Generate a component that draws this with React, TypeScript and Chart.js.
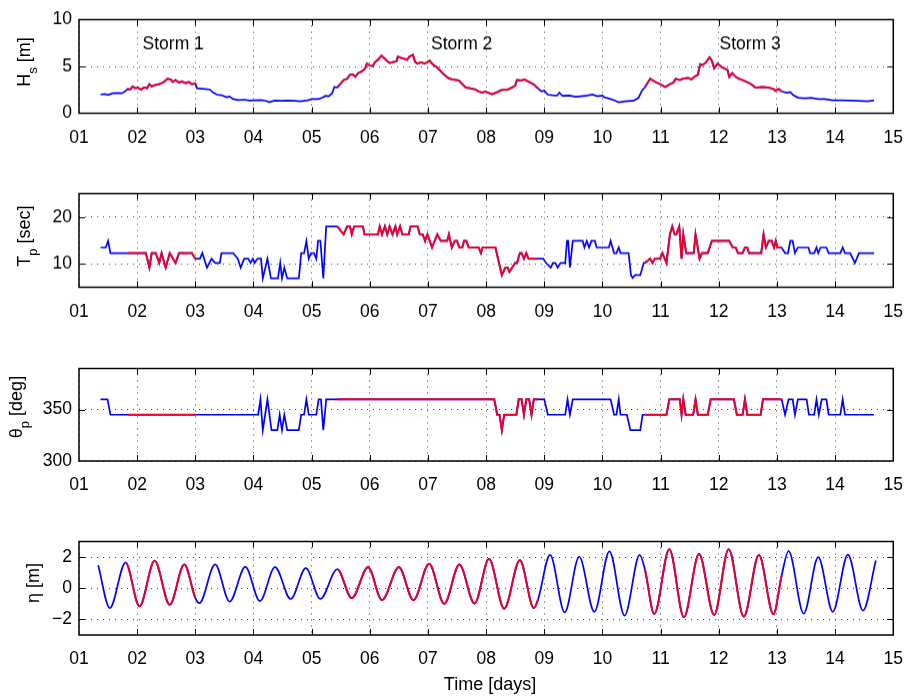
import React, { useEffect, useRef } from 'react';
import { Chart, registerables } from 'chart.js';

Chart.register(...registerables);

// time axis, days
const dayTicks = [1, 2, 3, 4, 5, 6, 7, 8, 9, 10, 11, 12, 13, 14, 15];

// storm periods (red)
const stormStart = [1.84, 5.44, 10.73];
const stormEnd = [3.0, 8.89, 13.08];
const stormNames = ['Storm 1', 'Storm 2', 'Storm 3'];
const stormNameDays = [2.62, 7.58, 12.54];
const stormNameLevel = 7.4;

// significant wave height Hs [m]
const hsDays = [
  1.37, 1.44, 1.5, 1.58, 1.67, 1.73, 1.76, 1.81, 1.84, 1.88, 1.92, 1.97, 2.01, 2.07, 2.12, 2.17, 2.21, 2.25, 2.31, 2.38,
  2.46, 2.52, 2.58, 2.61, 2.66, 2.72, 2.77, 2.83, 2.89, 2.94, 3.0, 3.03, 3.17, 3.25, 3.31, 3.37, 3.45, 3.54, 3.59, 3.65,
  3.74, 3.85, 3.93, 4.02, 4.13, 4.22, 4.27, 4.36, 4.47, 4.59, 4.7, 4.81, 4.93, 5.01, 5.12, 5.18, 5.24, 5.29, 5.35, 5.39,
  5.44, 5.49, 5.55, 5.61, 5.66, 5.71, 5.75, 5.8, 5.86, 5.92, 5.95, 6.0, 6.05, 6.09, 6.14, 6.2, 6.26, 6.3, 6.34, 6.4,
  6.46, 6.48, 6.54, 6.6, 6.64, 6.68, 6.74, 6.78, 6.82, 6.88, 6.94, 6.99, 7.03, 7.08, 7.14, 7.19, 7.25, 7.31, 7.36, 7.42,
  7.53, 7.59, 7.65, 7.73, 7.82, 7.87, 7.93, 7.99, 8.03, 8.1, 8.19, 8.27, 8.36, 8.44, 8.5, 8.53, 8.61, 8.66, 8.72, 8.81,
  8.89, 8.95, 9.0, 9.06, 9.14, 9.22, 9.26, 9.31, 9.43, 9.54, 9.63, 9.74, 9.83, 9.91, 10.0, 10.03, 10.14, 10.22, 10.28, 10.39,
  10.54, 10.62, 10.68, 10.73, 10.82, 10.9, 10.99, 11.08, 11.16, 11.22, 11.26, 11.33, 11.38, 11.47, 11.53, 11.58, 11.64, 11.68, 11.72, 11.78,
  11.84, 11.88, 11.92, 11.98, 12.04, 12.09, 12.15, 12.18, 12.23, 12.29, 12.35, 12.41, 12.46, 12.55, 12.63, 12.75, 12.86, 12.94, 12.97, 13.03,
  13.08, 13.17, 13.23, 13.28, 13.37, 13.48, 13.59, 13.71, 13.82, 13.96, 14.1, 14.27, 14.39, 14.56, 14.67,
];
const hsValues = [
  1.99, 2.06, 1.96, 2.13, 2.16, 2.13, 2.2, 2.43, 2.6, 2.53, 2.87, 2.67, 2.74, 2.53, 2.77, 2.67, 3.11, 2.87, 3.01, 3.11,
  3.34, 3.68, 3.61, 3.34, 3.55, 3.28, 3.41, 3.21, 3.34, 3.11, 3.17, 2.67, 2.6, 2.53, 2.2, 1.99, 1.93, 1.72, 1.79, 1.52,
  1.42, 1.45, 1.35, 1.39, 1.42, 1.32, 1.18, 1.35, 1.32, 1.35, 1.32, 1.28, 1.39, 1.52, 1.52, 1.66, 1.86, 1.82, 2.09, 2.8,
  2.77, 3.11, 3.55, 3.68, 4.12, 4.15, 3.89, 4.29, 4.46, 4.8, 5.3, 5.1, 5.03, 5.47, 5.71, 6.15, 5.81, 5.57, 5.37, 5.47,
  5.57, 6.05, 5.91, 5.81, 5.71, 6.05, 6.25, 5.47, 5.3, 5.44, 5.3, 5.47, 5.64, 5.24, 4.97, 4.7, 4.29, 3.95, 3.72, 3.61,
  3.51, 3.11, 2.74, 2.67, 2.53, 2.33, 2.2, 2.33, 2.2, 2.03, 2.26, 2.5, 2.5, 2.74, 2.94, 3.55, 3.51, 3.61, 3.41, 3.11,
  2.67, 2.33, 2.43, 1.99, 1.93, 1.89, 2.2, 1.86, 1.89, 1.76, 1.82, 1.89, 1.99, 1.82, 1.89, 1.72, 1.52, 1.35, 1.18, 1.28,
  1.35, 1.66, 2.43, 2.77, 3.68, 3.38, 3.11, 2.8, 3.11, 3.28, 3.68, 3.55, 3.68, 3.78, 3.61, 3.89, 4.12, 5.24, 5.14, 5.44,
  5.98, 5.64, 4.8, 5.3, 4.97, 4.8, 4.63, 3.89, 4.29, 3.89, 3.68, 3.55, 3.41, 3.14, 2.74, 2.8, 2.74, 2.6, 2.4, 2.6,
  2.33, 2.2, 2.26, 1.93, 1.66, 1.59, 1.66, 1.52, 1.52, 1.39, 1.39, 1.35, 1.32, 1.28, 1.39,
];

// peak period Tp [sec]
const tpDays = [
  1.37, 1.46, 1.5, 1.54, 1.84, 2.15, 2.21, 2.25, 2.32, 2.38, 2.42, 2.49, 2.56, 2.66, 2.72, 2.94, 3.0, 3.08, 3.12, 3.2,
  3.28, 3.34, 3.42, 3.45, 3.65, 3.73, 3.78, 3.84, 3.91, 3.95, 3.99, 4.02, 4.07, 4.13, 4.16, 4.24, 4.3, 4.42, 4.46, 4.49,
  4.53, 4.58, 4.78, 4.82, 4.87, 4.91, 4.95, 4.99, 5.04, 5.08, 5.11, 5.15, 5.2, 5.25, 5.44, 5.55, 5.61, 5.66, 5.69, 5.73,
  5.88, 5.91, 6.14, 6.17, 6.21, 6.26, 6.3, 6.34, 6.39, 6.44, 6.47, 6.52, 6.56, 6.67, 6.7, 6.82, 6.86, 6.91, 6.95, 6.99,
  7.07, 7.16, 7.22, 7.33, 7.36, 7.41, 7.46, 7.5, 7.54, 7.59, 7.62, 7.66, 7.7, 7.87, 7.91, 7.94, 8.16, 8.27, 8.33, 8.37,
  8.4, 8.5, 8.53, 8.58, 8.61, 8.65, 8.69, 8.73, 8.89, 8.98, 9.03, 9.11, 9.15, 9.19, 9.23, 9.28, 9.36, 9.39, 9.41, 9.44,
  9.49, 9.66, 9.69, 9.73, 9.77, 9.81, 9.87, 9.9, 10.11, 10.14, 10.2, 10.24, 10.28, 10.31, 10.45, 10.49, 10.52, 10.56, 10.65, 10.71,
  10.73, 10.82, 10.86, 10.9, 10.99, 11.03, 11.07, 11.1, 11.16, 11.2, 11.24, 11.27, 11.32, 11.36, 11.39, 11.44, 11.57, 11.6, 11.67, 11.71,
  11.81, 11.88, 12.18, 12.24, 12.29, 12.33, 12.41, 12.45, 12.49, 12.52, 12.73, 12.77, 12.81, 12.86, 12.91, 12.95, 12.98, 13.01, 13.08, 13.14,
  13.19, 13.23, 13.27, 13.31, 13.36, 13.54, 13.57, 13.64, 13.68, 13.71, 13.75, 13.85, 13.89, 14.09, 14.13, 14.17, 14.26, 14.34, 14.41, 14.67,
];
const tpValues = [
  13.5, 13.5, 14.9, 12.3, 12.3, 12.3, 9.2, 12.3, 12.3, 10.2, 12.3, 9.2, 12.3, 10.2, 12.3, 12.3, 11.1, 11.1, 12.3, 9.2,
  11.1, 10.2, 10.2, 12.3, 12.3, 11.1, 9.2, 11.1, 11.1, 10.2, 11.1, 10.2, 11.1, 11.1, 6.9, 11.1, 6.9, 6.9, 10.2, 6.9,
  9.2, 6.9, 6.9, 12.3, 12.3, 14.9, 11.1, 12.3, 12.3, 11.1, 14.9, 14.9, 6.9, 18.0, 18.0, 16.3, 18.0, 18.0, 16.3, 18.0,
  18.0, 16.3, 16.3, 18.0, 16.3, 18.0, 16.3, 18.0, 16.3, 18.0, 16.3, 18.0, 16.3, 16.3, 18.0, 18.0, 16.3, 16.3, 14.9, 16.3,
  13.5, 16.3, 14.9, 14.9, 16.3, 13.5, 14.9, 14.9, 13.5, 13.5, 14.9, 14.9, 13.5, 13.5, 12.3, 13.5, 13.5, 7.6, 9.2, 9.2,
  8.3, 10.2, 10.2, 12.3, 12.3, 11.1, 12.3, 11.1, 11.1, 11.1, 10.2, 9.2, 10.2, 10.2, 9.2, 10.2, 10.2, 14.9, 14.9, 9.2,
  14.9, 14.9, 13.5, 14.9, 13.5, 14.9, 14.9, 13.5, 13.5, 14.9, 12.3, 12.3, 13.5, 12.3, 12.3, 7.6, 7.0, 7.6, 7.6, 10.2,
  10.2, 11.1, 10.2, 11.1, 11.1, 12.3, 11.1, 10.2, 16.3, 18.0, 16.3, 16.3, 18.0, 11.1, 16.3, 12.3, 12.3, 16.3, 11.1, 12.3,
  12.3, 14.9, 14.9, 13.5, 13.5, 12.3, 12.3, 13.5, 13.5, 12.3, 12.3, 16.3, 13.5, 14.9, 14.9, 13.5, 14.9, 13.5, 13.5, 12.3,
  12.3, 14.9, 14.9, 12.3, 13.5, 13.5, 12.3, 12.3, 13.5, 12.3, 13.5, 13.5, 12.3, 12.3, 13.5, 12.3, 12.3, 10.2, 12.3, 12.3,
];

// peak direction theta_p [deg]
const dirDays = [
  1.37, 1.49, 1.54, 1.84, 3.0, 4.08, 4.12, 4.16, 4.24, 4.31, 4.41, 4.45, 4.49, 4.53, 4.58, 4.78, 4.82, 4.87, 4.91, 4.95,
  5.08, 5.12, 5.16, 5.2, 5.25, 5.44, 8.14, 8.19, 8.23, 8.27, 8.31, 8.52, 8.56, 8.61, 8.65, 8.69, 8.74, 8.78, 8.82, 8.89,
  9.0, 9.06, 9.36, 9.4, 9.44, 9.49, 10.14, 10.2, 10.24, 10.28, 10.31, 10.42, 10.48, 10.65, 10.69, 10.73, 11.1, 11.15, 11.33, 11.36,
  11.39, 11.43, 11.56, 11.6, 11.64, 11.81, 11.86, 12.26, 12.31, 12.41, 12.45, 12.49, 12.72, 12.76, 13.08, 13.14, 13.2, 13.27, 13.31, 13.36,
  13.51, 13.55, 13.64, 13.68, 13.72, 13.77, 13.85, 13.89, 14.09, 14.13, 14.17, 14.67,
];
const dirValues = [
  360, 360, 345, 345, 345, 345, 360, 330, 360, 330, 330, 345, 330, 345, 330, 330, 345, 345, 360, 345,
  345, 360, 360, 330, 360, 360, 360, 345, 345, 330, 345, 345, 360, 360, 345, 360, 360, 345, 360, 360,
  360, 345, 345, 360, 345, 360, 360, 345, 345, 360, 345, 345, 330, 330, 345, 345, 345, 360, 360, 345,
  360, 345, 345, 360, 345, 345, 360, 360, 345, 345, 360, 345, 345, 360, 360, 345, 360, 360, 345, 360,
  360, 345, 345, 360, 345, 360, 360, 345, 345, 360, 345, 345,
];

// water level eta [m], turning points of the tide
const etaDays = [
  1.33, 1.53, 1.8, 2.04, 2.3, 2.56, 2.81, 3.0, 3.07, 3.34, 3.59, 3.86, 4.11, 4.37, 4.64, 4.9, 5.15, 5.44, 5.69, 5.97,
  6.21, 6.5, 6.75, 7.02, 7.28, 7.54, 7.8, 8.05, 8.31, 8.58, 8.82, 8.89, 9.1, 9.35, 9.6, 9.86, 10.12, 10.38, 10.64, 10.73,
  10.89, 11.15, 11.4, 11.66, 11.92, 12.17, 12.43, 12.69, 12.94, 13.08, 13.2, 13.46, 13.71, 13.96, 14.22, 14.48, 14.7,
];
const etaValues = [
  1.47, -1.27, 1.65, -1.16, 1.76, -1.06, 1.53, -0.62, -0.96, 1.53, -0.86, 1.37, -0.82, 1.35, -0.69, 1.29, -0.69, 1.22, -0.63, 1.35,
  -0.76, 1.35, -0.76, 1.57, -1.0, 1.53, -0.98, 1.88, -1.31, 1.8, -1.27, -0.75, 2.14, -1.55, 2.02, -1.51, 2.37, -1.76, 2.14, 1.2,
  -1.65, 2.51, -1.86, 2.2, -1.71, 2.51, -1.82, 2.14, -1.67, 0.8, 2.39, -1.63, 2.0, -1.51, 2.16, -1.43, 1.78,
];

const hsTicks = [0, 5, 10];
const tpTicks = [10, 20];
const dirTicks = [300, 350];
const etaTicks = [-2, 0, 2];

const BLUE = '#0000ff';
const RED = '#e8002e';
const FONT = "'Liberation Sans', Arial, Helvetica, sans-serif";

const panels = [
  { days: hsDays, values: hsValues, min: 0, max: 10, ticks: hsTicks, smooth: false, names: true },
  { days: tpDays, values: tpValues, min: 5, max: 25, ticks: tpTicks, smooth: false, names: false },
  { days: dirDays, values: dirValues, min: 300, max: 390, ticks: dirTicks, smooth: false, names: false },
  { days: etaDays, values: etaValues, min: -3, max: 3, ticks: etaTicks, smooth: true, names: false },
];

const titleMain = ['H', 'T', '\u03b8', '\u03b7'];
const titleSub = ['s', 'p', 'p', ''];
const titleUnit = [' [m]', ' [sec]', ' [deg]', ' [m]'];

// layout (px)
const BOX_LEFT = 79;
const BOX_RIGHT = 901;
const PAD_TOP = 12;
const AXIS_H = 40;
const TICK = 6;
const boxTops = [14, 188, 363, 536];
const boxHeights = [98.5, 98.5, 98, 99];
const titleX = [24.5, 25, 16.7, 33.3];
const titleY = [61.5, 236, 406.6, 582.5];

const inStorm = (d: number) => stormStart.some((s, i) => d >= s && d <= stormEnd[i]);

const framePlugin = {
  id: 'frame',
  afterDraw(chart: any, _args: any, opts: any) {
    const { ctx, chartArea: a, scales } = chart;
    const xs = scales.x;
    const ys = scales.y;
    ctx.save();
    ctx.strokeStyle = '#000';
    ctx.lineWidth = 1;
    ctx.beginPath();
    xs.ticks.forEach((t: any) => {
      const px = Math.round(xs.getPixelForValue(t.value)) + 0.5;
      if (px <= a.left + 1 || px >= a.right - 1) return;
      ctx.moveTo(px, a.bottom);
      ctx.lineTo(px, a.bottom - TICK);
      ctx.moveTo(px, a.top);
      ctx.lineTo(px, a.top + TICK);
    });
    ys.ticks.forEach((t: any) => {
      const py = Math.round(ys.getPixelForValue(t.value)) + 0.5;
      if (py <= a.top + 1 || py >= a.bottom - 1) return;
      ctx.moveTo(a.left, py);
      ctx.lineTo(a.left + TICK, py);
      ctx.moveTo(a.right, py);
      ctx.lineTo(a.right - TICK, py);
    });
    ctx.stroke();
    ctx.lineWidth = 1.5;
    ctx.strokeRect(a.left, a.top, a.right - a.left, a.bottom - a.top);
    if (opts && opts.names) {
      ctx.fillStyle = '#000';
      ctx.font = `17.5px ${FONT}`;
      ctx.textAlign = 'center';
      ctx.textBaseline = 'middle';
      stormNames.forEach((n, i) => {
        ctx.fillText(n, xs.getPixelForValue(stormNameDays[i]), ys.getPixelForValue(stormNameLevel));
      });
    }
    ctx.restore();
  },
};

const Panel: React.FC<{ index: number }> = ({ index }) => {
  const canvasRef = useRef<HTMLCanvasElement>(null);

  useEffect(() => {
    const p = panels[index];
    const points = p.days.map((d, i) => ({ x: d, y: p.values[i] }));
    const line = {
      pointRadius: 0,
      tension: 0,
      cubicInterpolationMode: p.smooth ? 'monotone' : 'default',
    };
    const tickFont = { family: FONT, size: 17.5 };

    // chart.js paints the first dataset last, so the storm overlay goes first
    const chart = new Chart(canvasRef.current as HTMLCanvasElement, {
      type: 'line',
      data: {
        datasets: [
          {
            ...line,
            data: points,
            borderWidth: 2,
            borderColor: RED,
            segment: {
              borderColor: (c: any) => (inStorm((c.p0.parsed.x + c.p1.parsed.x) / 2) ? RED : 'rgba(0,0,0,0)'),
            },
          },
          { ...line, data: points, borderWidth: 1.7, borderColor: BLUE },
        ] as any,
      },
      options: {
        animation: false,
        responsive: true,
        maintainAspectRatio: false,
        events: [],
        layout: { padding: { top: PAD_TOP, left: 0, right: 917 - BOX_RIGHT, bottom: 0 } },
        plugins: {
          legend: { display: false },
          tooltip: { enabled: false },
          frame: { names: p.names },
        } as any,
        scales: {
          x: {
            type: 'linear',
            min: 1,
            max: 15,
            afterBuildTicks: (ax: any) => {
              ax.ticks = dayTicks.map(v => ({ value: v }));
            },
            afterFit: (ax: any) => {
              ax.height = AXIS_H;
            },
            ticks: {
              font: tickFont,
              color: '#000',
              padding: 14,
              maxRotation: 0,
              autoSkip: false,
              callback: (v: any) => String(v).padStart(2, '0'),
            },
            grid: { color: 'rgba(0,0,0,0.75)', lineWidth: 1, drawTicks: false },
            border: { display: false, dash: [1, 5] },
          },
          y: {
            type: 'linear',
            min: p.min,
            max: p.max,
            afterBuildTicks: (ax: any) => {
              ax.ticks = p.ticks.map(v => ({ value: v }));
            },
            afterFit: (ax: any) => {
              ax.width = BOX_LEFT;
            },
            ticks: {
              font: tickFont,
              color: '#000',
              padding: 7,
              callback: (v: any) => (v < 0 ? '\u2212' + Math.abs(v) : String(v)),
            },
            grid: { color: 'rgba(0,0,0,0.75)', lineWidth: 1, drawTicks: false },
            border: { display: false, dash: [1, 5] },
          },
        },
      },
      plugins: [framePlugin],
    });

    return () => chart.destroy();
  }, [index]);

  return (
    <div
      style={{
        position: 'absolute',
        left: 0,
        top: boxTops[index] - PAD_TOP,
        width: 917,
        height: PAD_TOP + boxHeights[index] + AXIS_H,
      }}
    >
      <canvas ref={canvasRef} />
    </div>
  );
};

const App: React.FC = () => {
  return (
    <div
      style={{
        position: 'absolute',
        left: 0,
        top: 0,
        width: 917,
        height: 698,
        background: '#fff',
        fontFamily: FONT,
        color: '#000',
        overflow: 'hidden',
      }}
    >
      {panels.map((_, i) => (
        <Panel key={i} index={i} />
      ))}
      {panels.map((_, i) => (
        <div
          key={'t' + i}
          style={{
            position: 'absolute',
            left: titleX[i],
            top: titleY[i],
            transform: 'translate(-50%, -50%) rotate(-90deg)',
            whiteSpace: 'nowrap',
            fontSize: 18,
            lineHeight: '20px',
          }}
        >
          {titleMain[i]}
          {titleSub[i] && <span style={{ fontSize: 13, position: 'relative', top: 7 }}>{titleSub[i]}</span>}
          {titleUnit[i]}
        </div>
      ))}
      <div
        style={{
          position: 'absolute',
          left: (BOX_LEFT + BOX_RIGHT) / 2,
          top: 684,
          transform: 'translate(-50%, -50%)',
          whiteSpace: 'nowrap',
          fontSize: 18,
          lineHeight: '20px',
        }}
      >
        Time [days]
      </div>
    </div>
  );
};

export default App;
